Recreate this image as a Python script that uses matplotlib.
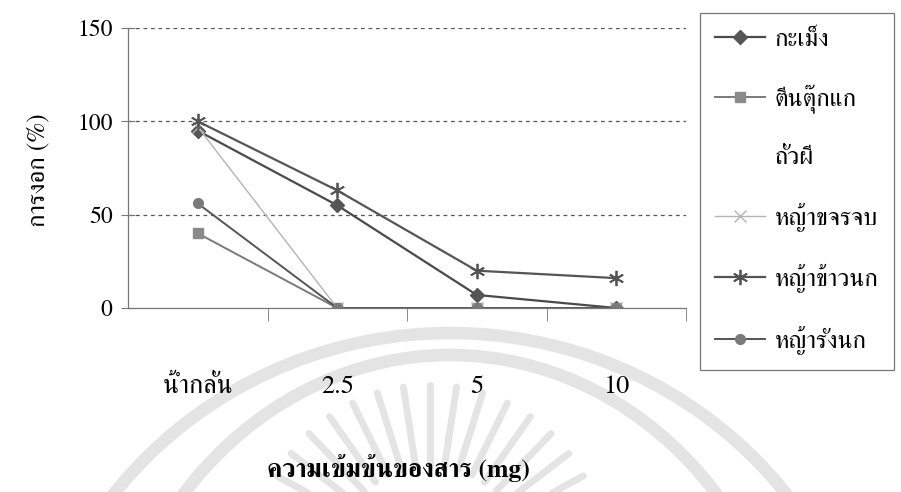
import numpy as np
import matplotlib
matplotlib.use("Agg")
import matplotlib.pyplot as plt
from matplotlib.patches import Arc

plt.rcParams['font.family'] = ['FreeSerif', 'DejaVu Sans']

# germination (%) at each concentration
concentrations = ['น้ำกลั่น', '2.5', '5', '10']
kamaeng = [95, 55, 7, 0]
teen_tukkae = [40, 0, 0, 0]
thua_phi = [np.nan, np.nan, np.nan, np.nan]
ya_khachonchop = [97, 0, 0, 0]
ya_khaonok = [100, 63, 20, 16]
ya_rangnok = [56, 0, 0, 0]

y_ticks = [0, 50, 100, 150]

fig = plt.figure(figsize=(9.01, 4.92), dpi=100)

# faint seal in the background
bg = fig.add_axes([0, 0, 1, 1], zorder=-5)
bg.set_xlim(0, 901)
bg.set_ylim(492, 0)
bg.axis('off')
wm = '#e4e4e4'
bg.add_patch(Arc((450, 750), 852, 834, theta1=180, theta2=360, color=wm, lw=9))
bg.add_patch(Arc((450, 750), 700, 790, theta1=180, theta2=360, color=wm, lw=9))
for ang in np.linspace(200, 340, 17):
    t = np.radians(ang)
    bg.plot([430 + 95 * np.cos(t), 430 + 175 * np.cos(t)],
            [560 + 95 * np.sin(t), 560 + 175 * np.sin(t)],
            color=wm, lw=5, solid_capstyle='round')

ax = fig.add_axes([128 / 901, 1 - 308 / 492, 558 / 901, 280 / 492])
x = np.arange(len(concentrations))

ax.plot(x, kamaeng, color='#4a4a4a', lw=1.6, marker='D', ms=7,
        mfc='#555555', mec='#555555', label='กะเม็ง')
ax.plot(x, teen_tukkae, color='#7a7a7a', lw=1.4, marker='s', ms=7,
        mfc='#8a8a8a', mec='#8a8a8a', label='ตีนตุ๊กแก')
ax.plot(x, thua_phi, color='none', label='ถั่วผี')
ax.plot(x, ya_khachonchop, color='#b4b4b4', lw=1.0, marker='x', ms=8,
        mew=1.0, label='หญ้าขจรจบ')
ax.plot(x, ya_khaonok, color='#555555', lw=1.6, marker=(6, 2, 0), ms=11,
        mew=1.3, label='หญ้าข้าวนก')
ax.plot(x, ya_rangnok, color='#555555', lw=1.4, marker='o', ms=7,
        mfc='#7a7a7a', mec='#7a7a7a', label='หญ้ารังนก')

ax.set_xlim(-0.5, 3.5)
ax.set_ylim(0, 150)
ax.set_yticks(y_ticks)
ax.set_yticklabels([str(v) for v in y_ticks], fontsize=17)
ax.set_xticks(x)
ax.set_xticklabels(concentrations, fontsize=19)
ax.set_xticks(x + 0.5, minor=True)
ax.tick_params(axis='x', which='major', length=0, pad=48)
ax.tick_params(axis='x', which='minor', direction='out', length=9, color='#777777')
ax.tick_params(axis='y', direction='inout', length=10, color='#777777', pad=6)

for v in y_ticks[1:]:
    ax.axhline(v, color='#555555', lw=0.9, ls=(0, (3, 3)), zorder=0)

for side in ('top', 'right'):
    ax.spines[side].set_visible(False)
for side in ('left', 'bottom'):
    ax.spines[side].set_color('#777777')
    ax.spines[side].set_linewidth(0.9)

fig.text(38 / 901, 1 - 170 / 492, 'การงอก (%)', rotation=90, fontsize=18,
         ha='center', va='center')
fig.text(398 / 901, 1 - 468 / 492, 'ความเข้มข้นของสาร (mg)', fontsize=18.5,
         fontweight='bold', ha='center', va='center')

leg = fig.legend(loc='upper left', bbox_to_anchor=(700 / 901, 1 - 13 / 492),
                 fontsize=18, frameon=True, fancybox=False, handlelength=2.0,
                 handletextpad=0.4, labelspacing=1.3, borderpad=0.6,
                 borderaxespad=0)
leg.get_frame().set_edgecolor('#555555')
leg.get_frame().set_linewidth(0.9)

fig.savefig('out.png', dpi=100)
